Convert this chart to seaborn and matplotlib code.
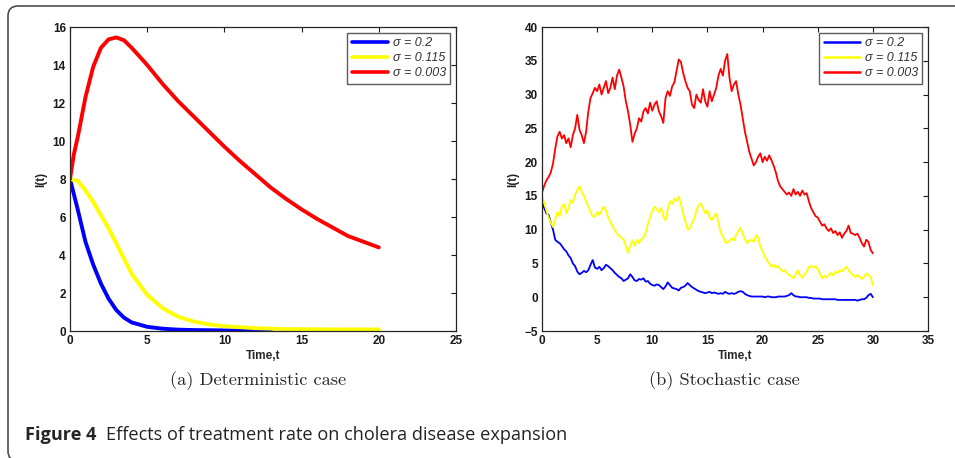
import numpy as np
import pandas as pd
import matplotlib
matplotlib.use("Agg")
import matplotlib.pyplot as plt
import seaborn as sns
from matplotlib.patches import FancyBboxPatch
from matplotlib.transforms import IdentityTransform

# ---- data ----
sigma_labels = ['σ = 0.2', 'σ = 0.115', 'σ = 0.003']
line_colors = ['#0000ff', '#ffff00', '#ff0000']

# (a) deterministic case
det_t_blue = [0, 0.5, 1, 1.5, 2, 2.5, 3, 3.5, 4, 5, 6, 7, 8, 10, 13]
det_I_blue = [8, 6.4, 4.7, 3.5, 2.5, 1.7, 1.1, 0.7, 0.45, 0.22, 0.12, 0.07, 0.05, 0.03, 0.02]

det_t_yellow = [0, 0.5, 1, 1.5, 2, 2.5, 3, 4, 5, 6, 7, 8, 9, 10, 12, 14, 17, 20]
det_I_yellow = [8, 7.9, 7.4, 6.8, 6.1, 5.4, 4.6, 3.0, 1.9, 1.2, 0.75, 0.5, 0.35, 0.25,
                0.15, 0.1, 0.08, 0.08]

det_t_red = [0, 0.25, 0.5, 1, 1.5, 2, 2.5, 3, 3.5, 4, 5, 6, 7, 8, 9, 10, 11, 12, 13,
             14, 15, 16, 17, 18, 19, 20]
det_I_red = [8, 9.3, 10.2, 12.3, 13.9, 14.9, 15.35, 15.45, 15.3, 14.9, 14.0, 13.0, 12.1,
             11.3, 10.5, 9.7, 8.95, 8.25, 7.55, 6.95, 6.4, 5.9, 5.45, 5.0, 4.7, 4.4]

# (b) stochastic case, sampled every 0.2 time units from t=0 to t=30
sto_I_blue = [
    14.0, 13.2, 12.4, 12.2, 11.0, 10.0, 8.5, 8.2, 8.0, 7.6,
    7.1, 6.8, 6.2, 5.8, 5.0, 4.6, 3.8, 3.4, 3.6, 3.9,
    3.7, 4.0, 4.8, 5.5, 4.4, 4.2, 4.5, 4.0, 4.3, 4.8,
    4.6, 4.3, 4.0, 3.6, 3.3, 3.0, 2.8, 2.4, 2.6, 2.8,
    3.4, 3.0, 2.5, 2.4, 2.7, 2.6, 2.8, 2.3, 2.4, 2.0,
    1.8, 1.7, 1.9, 1.8, 1.5, 1.2, 1.6, 2.2, 1.8, 1.4,
    1.3, 1.2, 1.0, 1.4, 1.5, 1.7, 2.1, 1.8, 1.5, 1.3,
    1.1, 0.9, 0.8, 0.7, 0.6, 0.7, 0.8, 0.6, 0.7, 0.6,
    0.5, 0.6, 0.5, 0.8, 0.6, 0.5, 0.6, 0.5, 0.6, 0.8,
    0.9, 0.8, 0.5, 0.3, 0.2, 0.1, 0.1, 0.1, 0.1, 0.1,
    0.1, 0.0, 0.1, 0.1, 0.0, 0.0, 0.0, 0.1, 0.1, 0.1,
    0.1, 0.2, 0.3, 0.6, 0.3, 0.1, 0.1, 0.0, 0.0, 0.0,
    0.0, -0.1, -0.1, -0.2, -0.2, -0.2, -0.2, -0.3, -0.3, -0.3,
    -0.3, -0.3, -0.3, -0.3, -0.4, -0.4, -0.4, -0.4, -0.4, -0.4,
    -0.4, -0.4, -0.4, -0.5, -0.4, -0.3, -0.3, -0.1, 0.3, 0.5,
    0.0]
sto_I_yellow = [
    15.0, 14.0, 12.8, 11.8, 11.0, 10.4, 11.5, 12.6, 12.0, 13.5,
    13.8, 12.4, 13.2, 14.4, 14.0, 15.2, 15.9, 16.4, 15.6, 15.0,
    14.2, 13.4, 12.6, 12.0, 11.9, 12.6, 12.2, 12.8, 13.4, 12.8,
    11.8, 11.2, 10.5, 9.9, 9.5, 9.0, 8.8, 8.5, 7.6, 6.6,
    7.6, 8.4, 7.6, 8.5, 8.0, 8.6, 8.8, 9.6, 10.8, 11.9,
    12.8, 13.4, 13.0, 12.6, 13.2, 12.0, 11.4, 13.0, 14.2, 13.8,
    14.6, 14.2, 14.9, 13.8, 12.4, 11.2, 10.0, 10.2, 11.0, 11.6,
    12.8, 13.6, 13.9, 13.2, 12.4, 12.8, 11.8, 11.4, 12.0, 12.4,
    11.0, 9.6, 9.0, 8.2, 8.0, 8.4, 8.7, 8.4, 9.2, 9.8,
    10.3, 9.4, 8.6, 8.0, 8.4, 8.5, 8.2, 9.2, 8.8, 7.4,
    6.8, 6.0, 5.5, 5.0, 4.5, 4.8, 4.4, 4.6, 4.2, 3.8,
    4.0, 3.6, 3.3, 3.1, 2.8, 3.4, 4.0, 3.2, 2.9, 3.4,
    3.8, 4.5, 4.6, 4.4, 4.6, 4.2, 3.5, 2.8, 3.2, 2.9,
    3.3, 3.6, 3.2, 3.8, 3.6, 4.0, 3.8, 4.2, 4.5, 4.0,
    3.6, 3.3, 3.0, 3.3, 3.0, 2.7, 3.0, 3.5, 3.3, 3.0,
    1.8]
sto_I_red = [
    15.5, 16.5, 17.3, 17.8, 18.5, 19.8, 22.0, 23.8, 24.5, 23.5,
    24.0, 22.8, 23.5, 22.2, 24.0, 25.0, 27.0, 24.8, 24.0, 22.8,
    24.5, 27.5, 29.5, 30.2, 31.0, 30.5, 31.5, 30.0, 31.0, 32.0,
    30.2, 31.0, 32.5, 30.8, 32.8, 33.7, 32.5, 31.2, 29.0, 27.5,
    25.5, 23.0, 24.2, 25.0, 26.5, 26.0, 27.5, 28.0, 27.2, 28.8,
    27.6, 28.5, 29.0, 27.5, 26.8, 25.8, 29.5, 30.5, 29.8, 31.2,
    31.8, 33.5, 35.2, 34.8, 33.2, 32.0, 31.0, 30.5, 28.5, 28.0,
    30.0, 29.2, 28.8, 30.8, 29.0, 28.2, 30.5, 29.0, 30.0, 31.0,
    32.8, 33.8, 32.8, 35.0, 36.0, 32.5, 30.5, 31.5, 32.0, 30.0,
    28.5, 26.5, 24.5, 23.0, 21.5, 20.5, 19.5, 20.0, 20.8, 21.3,
    20.0, 20.8, 20.2, 21.0, 20.3, 19.5, 18.5, 17.2, 16.4, 16.0,
    15.6, 15.2, 15.5, 15.0, 16.0, 15.2, 15.6, 15.0, 15.8, 15.2,
    15.4, 14.2, 13.2, 12.6, 12.0, 11.8, 11.2, 10.6, 10.8, 10.2,
    9.8, 10.2, 9.5, 9.8, 9.2, 9.6, 8.8, 9.4, 9.8, 10.6,
    9.5, 9.4, 9.2, 9.4, 8.8, 8.0, 7.5, 8.5, 8.2, 7.0,
    6.5]
sto_t = np.round(np.arange(len(sto_I_red)) * 0.2, 1)

subcaptions = ['(a) Deterministic case', '(b) Stochastic case']

# ---- build long tables for seaborn ----
det_df = pd.concat([
    pd.DataFrame({'t': det_t_blue, 'I': det_I_blue, 'sigma': sigma_labels[0]}),
    pd.DataFrame({'t': det_t_yellow, 'I': det_I_yellow, 'sigma': sigma_labels[1]}),
    pd.DataFrame({'t': det_t_red, 'I': det_I_red, 'sigma': sigma_labels[2]}),
])
sto_df = pd.concat([
    pd.DataFrame({'t': sto_t, 'I': sto_I_blue, 'sigma': sigma_labels[0]}),
    pd.DataFrame({'t': sto_t, 'I': sto_I_yellow, 'sigma': sigma_labels[1]}),
    pd.DataFrame({'t': sto_t, 'I': sto_I_red, 'sigma': sigma_labels[2]}),
])

sns.set_style("white", {
    'xtick.direction': 'in', 'ytick.direction': 'in',
    'axes.edgecolor': '#262626',
})
plt.rcParams['font.family'] = ['Liberation Sans', 'DejaVu Sans']

fig = plt.figure(figsize=(9.55, 4.58), dpi=100)
ax1 = fig.add_axes([70 / 955, 1 - 331 / 458, 386 / 955, 304 / 458])
ax2 = fig.add_axes([542 / 955, 1 - 331 / 458, 386 / 955, 304 / 458])

palette = dict(zip(sigma_labels, line_colors))
sns.lineplot(data=det_df, x='t', y='I', hue='sigma', palette=palette,
             hue_order=sigma_labels, lw=2.8, ax=ax1, estimator=None)
sns.lineplot(data=sto_df, x='t', y='I', hue='sigma', palette=palette,
             hue_order=sigma_labels, lw=1.3, ax=ax2, estimator=None)

panels = [
    (ax1, (0, 25), np.arange(0, 26, 5), (0, 16), np.arange(0, 17, 2), 2.6),
    (ax2, (0, 35), np.arange(0, 36, 5), (-5, 40), np.arange(-5, 41, 5), 1.8),
]
for ax, xl, xt, yl, yt, leg_lw in panels:
    ax.set_xlim(*xl)
    ax.set_ylim(*yl)
    ax.set_xticks(xt)
    ax.set_yticks(yt)
    ax.tick_params(which='both', direction='in', top=True, right=True,
                   length=3.5, width=0.8, labelsize=8.5, pad=3, colors='#1a1a1a')
    for lab in ax.get_xticklabels() + ax.get_yticklabels():
        lab.set_fontweight('bold')
    for sp in ax.spines.values():
        sp.set_visible(True)
        sp.set_linewidth(0.9)
    ax.set_xlabel('Time,t', fontsize=8.5, fontweight='bold', labelpad=2)
    ax.set_ylabel('I(t)', fontsize=8.5, fontweight='bold', labelpad=4)
    handles, labels = ax.get_legend_handles_labels()
    leg = ax.legend(handles, labels, loc='upper right',
                    frameon=True, fancybox=False, edgecolor='#333333',
                    handlelength=2.9, handletextpad=0.4, borderpad=0.35,
                    labelspacing=0.25, borderaxespad=0.45,
                    prop={'style': 'italic', 'size': 9})
    leg.get_frame().set_linewidth(1.0)
    for h in leg.get_lines():
        h.set_linewidth(leg_lw)
    for txt in leg.get_texts():
        txt.set_color('#333333')

# sub-captions in a Computer Modern style
fig.text(258 / 955, 1 - 381 / 458, subcaptions[0], ha='center', va='center',
         fontsize=13.2, family='cmr10')
fig.text(724 / 955, 1 - 381 / 458, subcaptions[1], ha='center', va='center',
         fontsize=13.2, family='cmr10')

# figure caption
cap_y = 1 - 435 / 458
t1 = fig.text(25 / 955, cap_y, 'Figure 4', ha='left', va='center',
              fontsize=13.1, fontweight='bold', family=['Open Sans', 'DejaVu Sans'])
fig.canvas.draw()
bb = t1.get_window_extent()
fig.text((bb.x1 + 10) / 955, cap_y, 'Effects of treatment rate on cholera disease expansion',
         ha='left', va='center', fontsize=13.1, family=['Open Sans', 'DejaVu Sans'],
         color='#222222')

# rounded frame around the figure block
frame = FancyBboxPatch((8, -3), 1000, 458 - 6 + 3, boxstyle='round,pad=0,rounding_size=10',
                       transform=IdentityTransform(), fill=False,
                       edgecolor='#4d4d4d', linewidth=1.2)
fig.add_artist(frame)

fig.savefig('out.png', dpi=100)
